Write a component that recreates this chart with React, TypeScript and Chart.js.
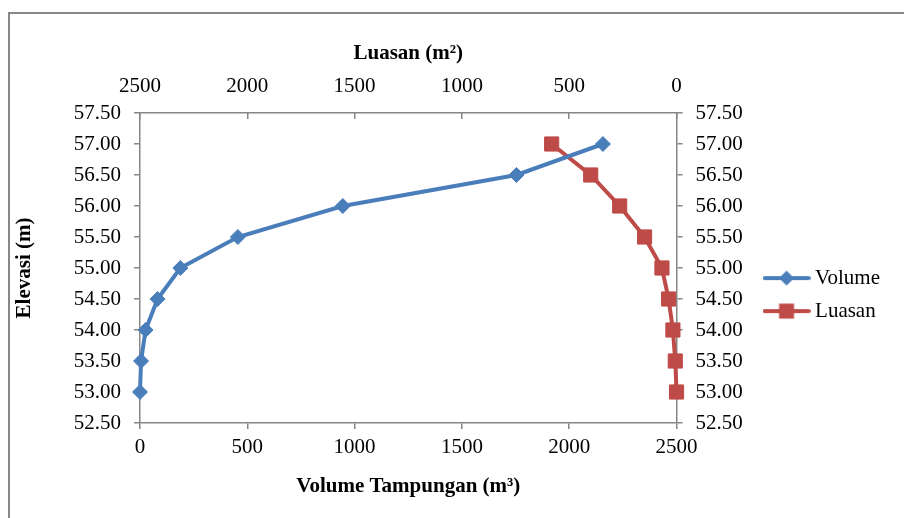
import React, { useEffect, useRef } from "react";
import { Chart, registerables } from "chart.js";

Chart.register(...registerables);

const elevations = [53.0, 53.5, 54.0, 54.5, 55.0, 55.5, 56.0, 56.5, 57.0];
const volumeValues = [0, 5, 26, 82, 188, 456, 945, 1754, 2157];
const luasanValues = [0, 6, 17, 37, 68, 149, 265, 400, 582];
const seriesNames = ["Volume", "Luasan"];
const axisTitles = {
  bottom: "Volume Tampungan (m³)",
  top: "Luasan (m²)",
  left: "Elevasi (m)",
};

const BLUE = "#4A7EBB";
const RED = "#BE4B48";
const AXIS = "#868686";
const FONT = "'Liberation Serif', 'Times New Roman', serif";

function makeLegendImage(color: string, kind: "diamond" | "square") {
  const c = document.createElement("canvas");
  c.width = 48;
  c.height = 20;
  const g = c.getContext("2d")!;
  g.strokeStyle = color;
  g.lineWidth = 4;
  g.lineCap = "round";
  g.beginPath();
  g.moveTo(2, 10);
  g.lineTo(46, 10);
  g.stroke();
  g.fillStyle = color;
  g.beginPath();
  if (kind === "diamond") {
    g.moveTo(24, 2.5);
    g.lineTo(31.5, 10);
    g.lineTo(24, 17.5);
    g.lineTo(16.5, 10);
    g.closePath();
  } else {
    g.rect(16.5, 2.5, 15, 15);
  }
  g.fill();
  return c;
}

export default function App() {
  const ref = useRef<HTMLCanvasElement | null>(null);

  useEffect(() => {
    if (!ref.current) return;
    const tickFont = { family: FONT, size: 21 };
    const titleFont = { family: FONT, size: 21, weight: "bold" as const };
    const imgs = [makeLegendImage(BLUE, "diamond"), makeLegendImage(RED, "square")];

    const baseGrid = { drawOnChartArea: false, color: AXIS, lineWidth: 1.5, tickLength: 6 };
    const baseBorder = { color: AXIS, width: 1.5 };
    const plainNum = (v: any) => String(Math.round(Number(v)));
    const twoDec = (v: any) => Number(v).toFixed(2);

    const chart = new Chart(ref.current, {
      type: "line",
      data: {
        datasets: [
          {
            label: seriesNames[0],
            data: elevations.map((e, i) => ({ x: volumeValues[i], y: e })),
            xAxisID: "x",
            yAxisID: "y",
            borderColor: BLUE,
            backgroundColor: BLUE,
            borderWidth: 4,
            pointStyle: "rectRot",
            pointRadius: 7.5,
            pointBorderWidth: 1,
            pointBackgroundColor: BLUE,
            pointBorderColor: BLUE,
            tension: 0,
            clip: false as any,
          },
          {
            label: seriesNames[1],
            data: elevations.map((e, i) => ({ x: luasanValues[i], y: e })),
            xAxisID: "x2",
            yAxisID: "y2",
            borderColor: RED,
            backgroundColor: RED,
            borderWidth: 4,
            pointStyle: "rect",
            pointRadius: 10,
            pointBorderWidth: 1,
            pointBackgroundColor: RED,
            pointBorderColor: RED,
            tension: 0,
            clip: false as any,
          },
        ],
      },
      options: {
        animation: false,
        responsive: false,
        maintainAspectRatio: false,
        layout: { padding: { top: 37, bottom: 15, left: 8, right: 14 } },
        scales: {
          x: {
            type: "linear",
            position: "bottom",
            min: 0,
            max: 2500,
            ticks: { stepSize: 500, font: tickFont, color: "#000", padding: 6, callback: plainNum },
            grid: { ...baseGrid },
            border: baseBorder,
            title: { display: true, text: axisTitles.bottom, font: titleFont, color: "#000" },
            afterFit: (s: any) => {
              s.height = 80;
            },
          },
          x2: {
            type: "linear",
            position: "top",
            reverse: true,
            min: 0,
            max: 2500,
            ticks: { stepSize: 500, font: tickFont, color: "#000", padding: 20, callback: plainNum },
            grid: { ...baseGrid, tickLength: -6 },
            border: baseBorder,
            title: { display: true, text: axisTitles.top, font: titleFont, color: "#000" },
            afterFit: (s: any) => {
              s.height = 76;
            },
          },
          y: {
            type: "linear",
            position: "left",
            min: 52.5,
            max: 57.5,
            ticks: { stepSize: 0.5, font: tickFont, color: "#000", padding: 13, callback: twoDec },
            grid: { ...baseGrid },
            border: baseBorder,
            title: { display: true, text: axisTitles.left, font: titleFont, color: "#000" },
            afterFit: (s: any) => {
              s.width = 132;
            },
          },
          y2: {
            type: "linear",
            position: "right",
            display: true,
            min: 52.5,
            max: 57.5,
            ticks: { stepSize: 0.5, font: tickFont, color: "#000", padding: 13, callback: twoDec },
            grid: { ...baseGrid },
            border: baseBorder,
            afterFit: (s: any) => {
              s.width = 80;
            },
          },
        },
        plugins: {
          tooltip: { enabled: false },
          legend: {
            display: true,
            position: "right",
            align: "center",
            title: { display: true, text: " ", font: { size: 1 }, padding: { top: 48, bottom: 0 } },
            labels: {
              font: { family: FONT, size: 21 },
              color: "#000",
              usePointStyle: true,
              pointStyleWidth: 36,
              padding: 12,
              generateLabels: (ch: any) =>
                Chart.defaults.plugins.legend.labels
                  .generateLabels(ch)
                  .map((l: any, i: number) => ({ ...l, pointStyle: imgs[l.datasetIndex ?? i] })),
            },
          },
        },
      },
    });
    return () => chart.destroy();
  }, []);

  return (
    <div
      style={{
        position: "fixed",
        left: 0,
        top: 0,
        width: 904,
        height: 518,
        overflow: "hidden",
        background: "#fff",
      }}
    >
      <div
        style={{
          position: "absolute",
          left: 8,
          top: 12,
          width: 1000,
          height: 1000,
          borderLeft: "2px solid #878787",
          borderTop: "2px solid #878787",
        }}
      />
      <canvas
        ref={ref}
        width={904}
        height={518}
        style={{ position: "absolute", left: 0, top: 0, width: 904, height: 518 }}
      />
    </div>
  );
}
